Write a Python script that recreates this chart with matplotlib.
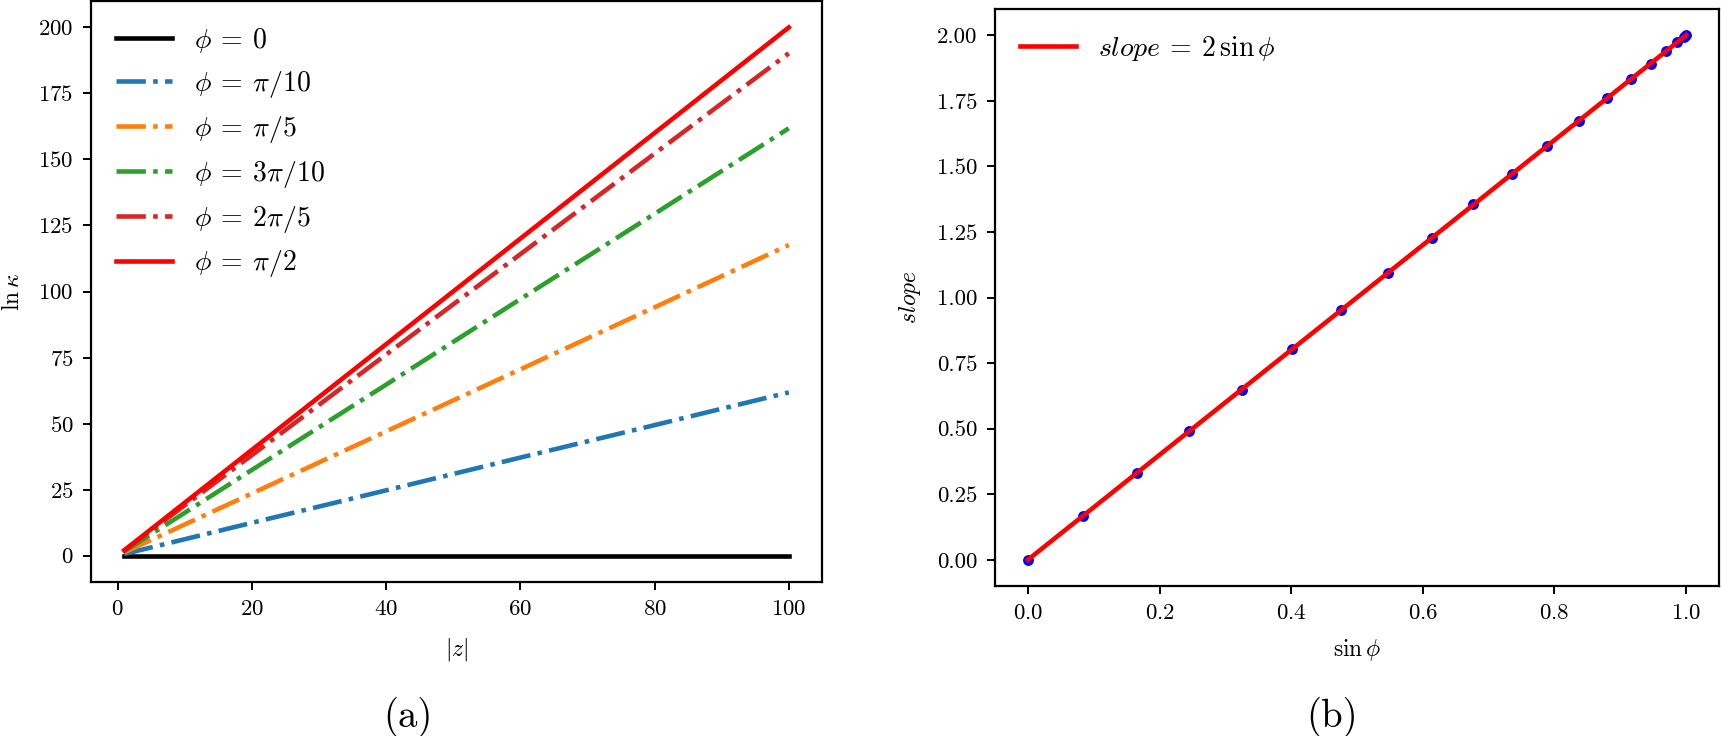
import matplotlib
matplotlib.use('Agg')
from matplotlib import pyplot as plt

# |z| sample points and ln(kappa)
z = [1, 20, 40, 60, 80, 100]
ln_k_0 = [0.0, 0.0, 0.0, 0.0, 0.0, 0.0]
ln_k_pi10 = [0.6, 12.4, 24.7, 37.1, 49.4, 61.8]
ln_k_pi5 = [1.2, 23.5, 47.0, 70.5, 94.0, 117.6]
ln_k_3pi10 = [1.6, 32.4, 64.7, 97.1, 129.4, 161.8]
ln_k_2pi5 = [1.9, 38.0, 76.1, 114.1, 152.2, 190.2]
ln_k_pi2 = [2.0, 40.0, 80.0, 120.0, 160.0, 200.0]

labels_a = [r'$\phi\:=\:0$', r'$\phi\:=\:\pi/10$', r'$\phi\:=\:\pi/5$',
            r'$\phi\:=\:3\pi/10$', r'$\phi\:=\:2\pi/5$', r'$\phi\:=\:\pi/2$']

# panel (b): fitted slopes against sin(phi)
sin_phi = [0.0, 0.083, 0.165, 0.245, 0.325, 0.402, 0.476, 0.547, 0.614, 0.677,
           0.736, 0.789, 0.837, 0.880, 0.916, 0.946, 0.969, 0.986, 0.997, 1.0]
slope = [0.0, 0.165, 0.329, 0.491, 0.649, 0.803, 0.952, 1.094, 1.228, 1.355,
         1.471, 1.578, 1.674, 1.759, 1.832, 1.892, 1.939, 1.973, 1.993, 2.0]
fit_x = [0.0, 1.0]
fit_y = [0.0, 2.0]

plt.rcParams['font.family'] = 'serif'
plt.rcParams['font.serif'] = ['cmr10']
plt.rcParams['mathtext.fontset'] = 'cm'
plt.rcParams['axes.formatter.use_mathtext'] = True
plt.rcParams['axes.linewidth'] = 1.6
for ax_name in ('xtick', 'ytick'):
    plt.rcParams[ax_name + '.major.size'] = 6
    plt.rcParams[ax_name + '.major.width'] = 1.4
    plt.rcParams[ax_name + '.major.pad'] = 6.5
    plt.rcParams[ax_name + '.labelsize'] = 16.5

fig = plt.figure(figsize=(17.21, 7.36), dpi=100)

# Panel (a)
ax1 = fig.add_axes([91 / 1721, 1 - 582 / 736, 731 / 1721, 581 / 736])
ax1.plot(z, ln_k_0, c='black', lw=3.3, label=labels_a[0])
ax1.plot(z, ln_k_pi10, c='tab:blue', ls='-.', lw=3.3, label=labels_a[1])
ax1.plot(z, ln_k_pi5, c='tab:orange', ls='-.', lw=3.3, label=labels_a[2])
ax1.plot(z, ln_k_3pi10, c='tab:green', ls='-.', lw=3.3, label=labels_a[3])
ax1.plot(z, ln_k_2pi5, c='tab:red', ls='-.', lw=3.3, label=labels_a[4])
ax1.plot(z, ln_k_pi2, c='red', lw=3.3, label=labels_a[5])
ax1.set_xlabel(r'$|z|$', fontsize=17, labelpad=12)
ax1.set_ylabel(r'$\ln\kappa$', fontsize=17, labelpad=10)
ax1.legend(loc='upper left', frameon=False, fontsize=20)
ax1.set_xticks([0, 20, 40, 60, 80, 100])
ax1.set_yticks([0, 25, 50, 75, 100, 125, 150, 175, 200])

# Panel (b)
ax2 = fig.add_axes([995 / 1721, 1 - 586 / 736, 724 / 1721, 577 / 736])
ax2.plot(sin_phi, slope, 'o', c='blue', ms=6.8)
ax2.plot(fit_x, fit_y, c='red', lw=3.3, label=r'$slope\:=\:2\,\sin\phi$')
ax2.set_xlabel(r'$\sin\phi$', fontsize=17, labelpad=10)
ax2.set_ylabel(r'$slope$', fontsize=17, labelpad=10)
ax2.legend(loc='upper left', frameon=False, fontsize=20)
ax2.set_yticks([0.0, 0.25, 0.5, 0.75, 1.0, 1.25, 1.5, 1.75, 2.0])
ax2.yaxis.set_major_formatter(plt.FormatStrFormatter('%.2f'))

fig.text(408 / 1721, 1 - 717 / 736, '(a)', fontsize=28, ha='center', va='center')
fig.text(1332 / 1721, 1 - 717 / 736, '(b)', fontsize=28, ha='center', va='center')

fig.savefig('out.png', dpi=100)
